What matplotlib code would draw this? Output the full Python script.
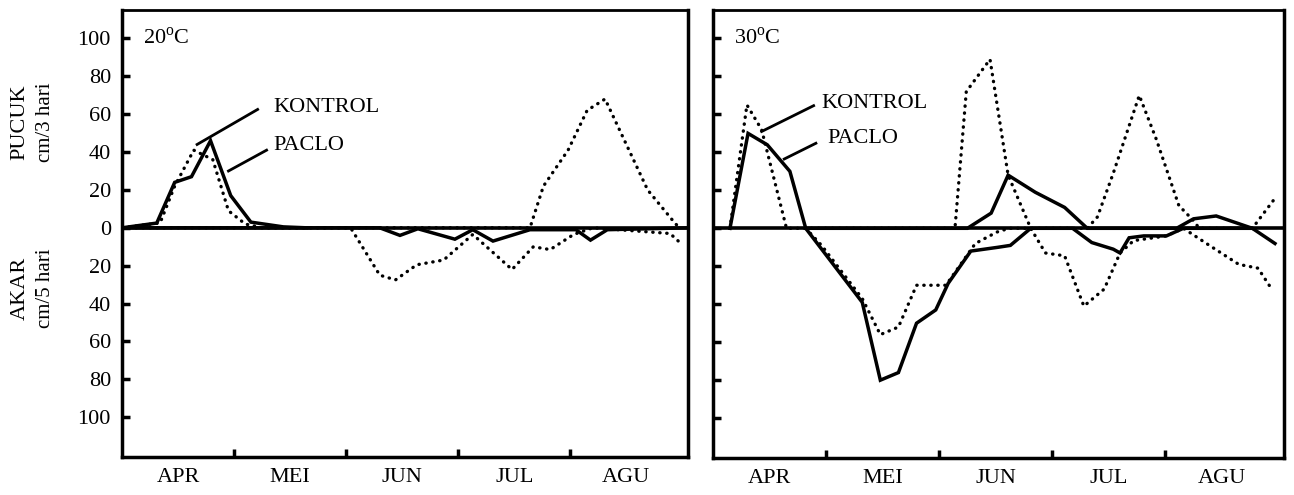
import matplotlib
matplotlib.use('Agg')
import matplotlib.pyplot as plt

plt.rcParams['font.family'] = ['Liberation Serif', 'DejaVu Serif']
plt.rcParams['mathtext.fontset'] = 'custom'
plt.rcParams['mathtext.rm'] = 'Liberation Serif'

# x in months from 1 April; shoot growth positive, root growth negative
months = ['APR', 'MEI', 'JUN', 'JUL', 'AGU']
ytick_vals = [100, 80, 60, 40, 20, 0, -20, -40, -60, -80, -100]
ytick_labels = ['100', '80', '60', '40', '20', '0', '20', '40', '60', '80', '100']

# 20 C panel
kon20_shoot_x = [0, 0.34, 0.47, 0.64, 0.81, 0.95, 1.10, 1.25, 3.64, 3.76, 3.98, 4.15, 4.31, 4.69, 4.94, 4.98]
kon20_shoot_y = [0, 2.6, 22, 41, 36, 9, 2, 0, 0, 22, 41, 62, 68, 20, 2, 0]
kon20_root_x = [0, 2.04, 2.30, 2.44, 2.63, 2.87, 3.13, 3.48, 3.67, 3.82, 4.03, 4.20, 4.89, 5.0]
kon20_root_y = [0, 0, -25, -27.5, -19.5, -17, -3.5, -22, -10, -11.5, -3.5, 0, -3, -9]
pac20_shoot_x = [0, 0.31, 0.47, 0.62, 0.79, 0.97, 1.15, 1.44, 1.65]
pac20_shoot_y = [0, 2.5, 24, 27, 46, 17, 3, 0.5, 0]
pac20_root_x = [0, 2.30, 2.48, 2.64, 2.97, 3.13, 3.31, 3.64, 4.05, 4.18, 4.33, 5.05]
pac20_root_y = [0, 0, -4, -0.5, -6, -1, -7, -1, -1, -6.5, -1, 0]

# 30 C panel
kon30_shoot_x = [0.15, 0.30, 0.43, 0.65, 2.14, 2.24, 2.45, 2.61, 2.81, 3.31, 3.40, 3.54, 3.77, 3.92, 4.12, 4.25, 4.30, 4.77, 4.96]
kon30_shoot_y = [0, 65, 52, 0, 0, 72, 89, 28, 0, 0, 6, 29, 70, 47, 12, 4, 0, 0, 15]
kon30_root_x = [0.82, 0.96, 1.32, 1.48, 1.64, 1.80, 2.06, 2.32, 2.51, 2.62, 2.81, 2.94, 3.11, 3.28,
                3.46, 3.60, 3.72, 4.01, 4.16, 4.39, 4.65, 4.82, 4.93]
kon30_root_y = [0, -9, -37, -56, -52, -30, -30, -8, -2, 0, 0, -13, -14.5, -41,
                -32, -13, -6.5, -4, 0, -9, -19, -21, -31]
pac30_shoot_x = [0.15, 0.31, 0.48, 0.68, 0.82, 2.25, 2.46, 2.61, 2.85, 3.11, 3.31, 4.10, 4.25, 4.45, 4.77]
pac30_shoot_y = [0, 50, 44, 30, 0, 0, 8, 28, 19, 11, 0, 0, 5, 6.5, 0]
pac30_root_x = [0.82, 1.32, 1.48, 1.64, 1.80, 1.97, 2.08, 2.28, 2.52, 2.63, 2.81, 3.18, 3.35, 3.54,
                3.60, 3.68, 3.81, 4.01, 4.16, 4.77, 4.97]
pac30_root_y = [0, -39, -80, -76, -50, -43, -29, -12, -10, -9, 0, 0, -7.5, -11,
                -13, -5, -4, -4, 0, 0, -8]

W, H = 1294, 495
fig = plt.figure(figsize=(W / 100, H / 100), dpi=100)


def px_axes(x0, y0, x1, y1):
    return fig.add_axes([x0 / W, 1 - y1 / H, (x1 - x0) / W, (y1 - y0) / H])


dot = dict(color='black', lw=2.4, linestyle=(0, (0.1, 2.0)), dash_capstyle='round')
solid = dict(color='black', lw=2.5, solid_joinstyle='miter')

ax1 = px_axes(122, 10, 688, 457)
ax2 = px_axes(713, 10, 1284, 458)

panels = [
    (ax1, '20$^{\\mathrm{o}}$C', kon20_shoot_x, kon20_shoot_y, kon20_root_x, kon20_root_y,
     pac20_shoot_x, pac20_shoot_y, pac20_root_x, pac20_root_y),
    (ax2, '30$^{\\mathrm{o}}$C', kon30_shoot_x, kon30_shoot_y, kon30_root_x, kon30_root_y,
     pac30_shoot_x, pac30_shoot_y, pac30_root_x, pac30_root_y),
]

for i, (ax, title, ksx, ksy, krx, kry, psx, psy, prx, pry) in enumerate(panels):
    ax.axhline(0, color='black', lw=2.6, zorder=1)
    ax.plot(ksx, ksy, **dot)
    ax.plot(krx, kry, **dot)
    ax.plot(psx, psy, **solid)
    ax.plot(prx, pry, **solid)

    ax.set_xlim(0, 5.05)
    ax.set_ylim(-121, 115)
    ax.set_yticks(ytick_vals)
    ax.set_xticks([1, 2, 3, 4])
    ax.set_xticklabels([])
    ax.set_xticks([0.5, 1.5, 2.5, 3.5, 4.5], minor=True)
    ax.set_xticklabels(months, minor=True)
    ax.tick_params(axis='x', which='major', direction='in', length=6, width=2.5)
    ax.tick_params(axis='x', which='minor', length=0, pad=8, labelsize=16)
    ax.tick_params(axis='y', direction='in', length=6, width=2.5, labelsize=16, pad=8)
    if i == 0:
        ax.set_yticklabels(ytick_labels)
    else:
        ax.set_yticklabels([])
    for side in ['left', 'bottom', 'right']:
        ax.spines[side].set_linewidth(2.5)
    ax.spines['top'].set_linewidth(2.0)
    ax.text(0.19, 100, title, fontsize=16, va='center', ha='left')

# labels with pointer lines
ax1.text(1.35, 63.5, 'KONTROL', fontsize=16, va='center', ha='left')
ax1.text(1.35, 43.7, 'PACLO', fontsize=16, va='center', ha='left')
ax1.plot([1.21, 0.67], [62.5, 44], color='black', lw=2)
ax1.plot([1.29, 0.95], [41, 30], color='black', lw=2)

ax2.text(0.96, 65.6, 'KONTROL', fontsize=16, va='center', ha='left')
ax2.text(1.01, 47.4, 'PACLO', fontsize=16, va='center', ha='left')
ax2.plot([0.89, 0.43], [64.6, 51], color='black', lw=2)
ax2.plot([0.91, 0.63], [44.8, 36.5], color='black', lw=2)

# axis titles on the left
fig.text(20 / W, 1 - 122 / H, 'PUCUK', rotation=90, fontsize=16, ha='center', va='center')
fig.text(46 / W, 1 - 122 / H, 'cm/3 hari', rotation=90, fontsize=15, ha='center', va='center')
fig.text(20 / W, 1 - 288 / H, 'AKAR', rotation=90, fontsize=16, ha='center', va='center')
fig.text(46 / W, 1 - 288 / H, 'cm/5 hari', rotation=90, fontsize=15, ha='center', va='center')

fig.savefig('out.png', dpi=100)
